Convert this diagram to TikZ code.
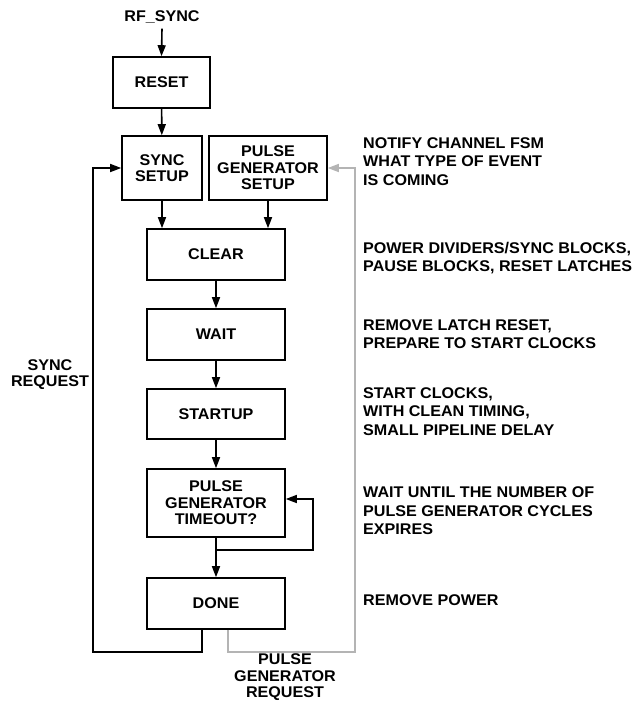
\documentclass[tikz,border=0pt]{standalone}
\usepackage{fontspec}
\setmainfont{Liberation Sans}[FakeStretch=1.04]
\usetikzlibrary{arrows.meta}
\definecolor{fbgray}{HTML}{B4B4B4}
\tikzset{
  lbl/.style={font=\bfseries\fontsize{15.5}{16.5}\selectfont, inner sep=0pt, align=center},
  note/.style={font=\bfseries\fontsize{15.5}{18.5}\selectfont, inner sep=0pt, align=left, anchor=west},
  stbox/.style={lbl, draw, line width=1.6pt, minimum width=138pt, minimum height=51pt},
  arr/.style={line width=1.6pt, -{Triangle[length=11pt,width=8pt]}},
  garr/.style={line width=1.6pt, draw=fbgray, -{Triangle[length=11pt,width=8pt,fill=fbgray]}}
}
\begin{document}
\begin{tikzpicture}[x=1pt,y=-1pt]
\useasboundingbox (0,0) rectangle (634,705);
% states
\node[lbl] (rfsync) at (162,17) {RF\_SYNC};
\node[stbox, minimum width=97pt] (reset) at (161.5,82.5) {RESET};
\node[stbox, minimum width=80pt, minimum height=64pt] (syncsetup) at (162,168) {SYNC\\SETUP};
\node[stbox, minimum width=118pt, minimum height=64pt] (pgsetup) at (268,168) {PULSE\\GENERATOR\\SETUP};
\node[stbox] (clear) at (216,254.5) {CLEAR};
\node[stbox] (wait) at (216,334.5) {WAIT};
\node[stbox, minimum height=50pt] (startup) at (216,414) {STARTUP};
\node[stbox, minimum height=68pt] (timeout) at (216,503) {PULSE\\GENERATOR\\TIMEOUT?};
\node[stbox] (done) at (216,603.5) {DONE};
% side labels
\node[lbl] (syncreq) at (50,374.5) {SYNC\\REQUEST};
\node[lbl] (pgreq) at (285,677.5) {PULSE\\GENERATOR\\REQUEST};
% notes
\node[note] (n1) at (363,161.5) {NOTIFY CHANNEL FSM\\WHAT TYPE OF EVENT\\IS COMING};
\node[note] (n2) at (363,258) {POWER DIVIDERS/SYNC BLOCKS,\\PAUSE BLOCKS, RESET LATCHES};
\node[note] (n3) at (363,334) {REMOVE LATCH RESET,\\PREPARE TO START CLOCKS};
\node[note] (n4) at (363,411.5) {START CLOCKS,\\WITH CLEAN TIMING,\\SMALL PIPELINE DELAY};
\node[note] (n5) at (363,511) {WAIT UNTIL THE NUMBER OF\\PULSE GENERATOR CYCLES\\EXPIRES};
\node[note] (n6) at (363,600) {REMOVE POWER};
% coordinates
\coordinate (lp) at (216,550);
\coordinate (lpr) at (313,550);
\coordinate (bl) at (202,652);
\coordinate (blc) at (93,652);
\coordinate (gr) at (228,652);
\coordinate (grc) at (355,652);
% connectors
\draw[arr] ([yshift=-5pt]rfsync.south) -- (reset.north);
\draw[arr] (reset) -- (syncsetup);
\draw[arr] (syncsetup.south) -- (syncsetup.south |- clear.north);
\draw[arr] (pgsetup.south) -- (pgsetup.south |- clear.north);
\draw[arr] (clear) -- (wait);
\draw[arr] (wait) -- (startup);
\draw[arr] (startup) -- (timeout);
\draw[arr] (timeout) -- (done);
\draw[arr] (lp) -- (lpr) -- (lpr |- 0,499) -- (timeout.east |- 0,499);
\draw[arr] (bl |- done.south) -- (bl) -- (blc) -- (blc |- syncsetup.west) -- (syncsetup.west);
\draw[garr] (gr |- done.south) -- (gr) -- (grc) -- (grc |- pgsetup.east) -- (pgsetup.east);
\end{tikzpicture}
\end{document}
